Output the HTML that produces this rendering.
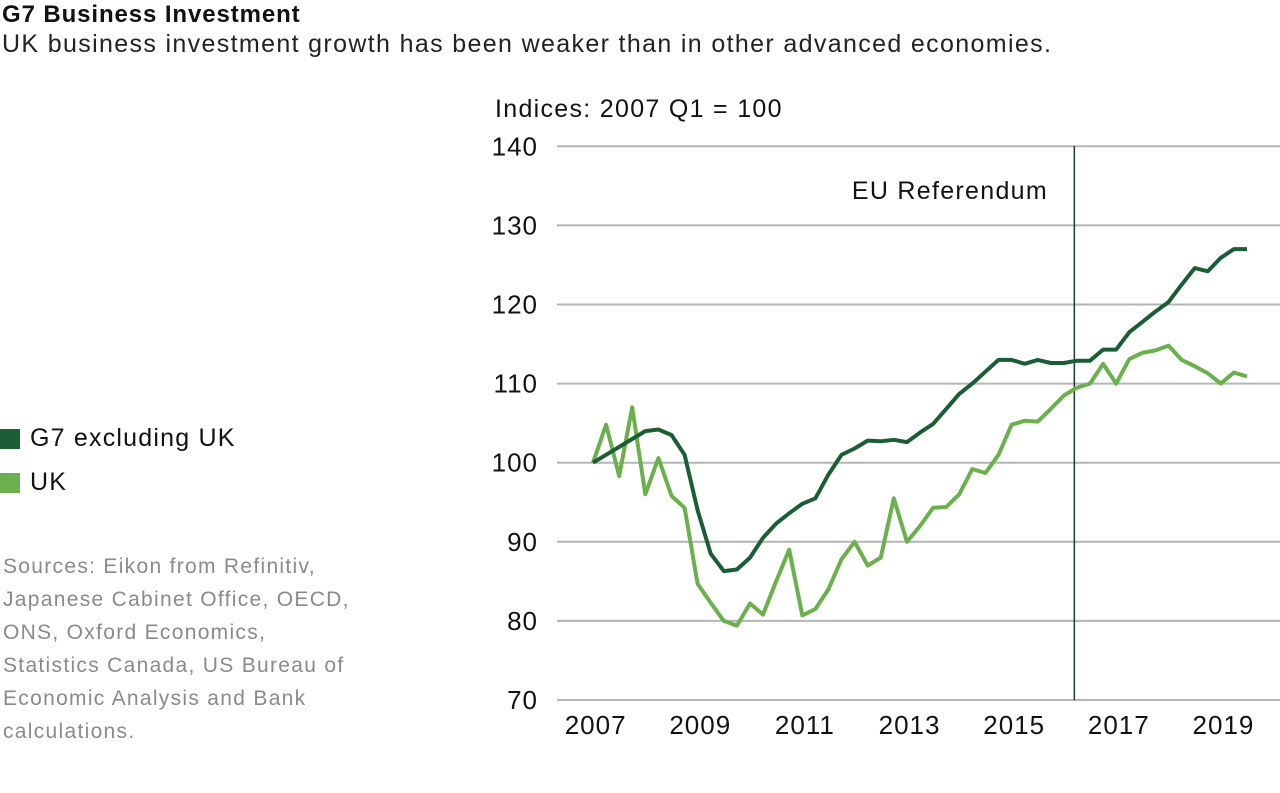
<!DOCTYPE html>
<html><head><meta charset="utf-8"><style>
body{margin:0;width:1280px;height:793px;background:#fff;font-family:"Liberation Sans",sans-serif;overflow:hidden;position:relative}
.t{position:absolute;white-space:nowrap}
</style></head><body>
<div class="t" style="left:2px;top:1px;font-size:24px;font-weight:bold;color:#111;letter-spacing:0.9px">G7 Business Investment</div>
<div class="t" style="left:2px;top:30px;font-size:25px;color:#222;letter-spacing:1.35px">UK business investment growth has been weaker than in other advanced economies.</div>
<div class="t" style="left:0;top:424px;font-size:25px;color:#111;letter-spacing:1.2px"><span style="display:inline-block;width:20px;height:20px;background:#1b5e35;vertical-align:-3px;margin-right:10px"></span>G7 excluding UK</div>
<div class="t" style="left:0;top:468px;font-size:25px;color:#111;letter-spacing:1.2px"><span style="display:inline-block;width:20px;height:20px;background:#6ab04c;vertical-align:-3px;margin-right:10px"></span>UK</div>
<div class="t" style="left:3px;top:550px;font-size:21px;line-height:33px;color:#8a8a8a;letter-spacing:1.3px">Sources: Eikon from Refinitiv,<br>Japanese Cabinet Office, OECD,<br>ONS, Oxford Economics,<br>Statistics Canada, US Bureau of<br>Economic Analysis and Bank<br>calculations.</div>
<svg id="c" width="1280" height="793" style="position:absolute;left:0;top:0"></svg>
<script>
const yTicks=[70,80,90,100,110,120,130,140];
const xTickLabels=["2007","2009","2011","2013","2015","2017","2019"];
const g7=[100,101,102,103,104,104.2,103.5,101,94,88.5,86.3,86.5,88,90.5,92.3,93.6,94.8,95.5,98.5,101,101.8,102.8,102.7,102.9,102.6,103.8,104.9,106.8,108.7,110,111.5,113,113,112.5,113,112.6,112.6,112.9,112.9,114.3,114.3,116.5,117.8,119.1,120.3,122.5,124.6,124.2,125.9,127,127];
const uk=[100,104.8,98.3,107,96,100.6,95.8,94.3,84.7,82.3,80,79.4,82.2,80.8,85,89,80.7,81.5,84,87.8,90,87,88,95.5,90,92,94.3,94.4,96,99.2,98.7,101,104.8,105.3,105.2,106.8,108.5,109.5,110,112.5,110,113.1,113.9,114.2,114.8,113,112.2,111.3,110,111.4,110.9];
const startYear=2007, referendumYear=2016.2;
const svg=document.getElementById('c');const NS='http://www.w3.org/2000/svg';
const y=v=>700-(v-70)*7.91;
const x=t=>593+(t-2007)*52.32;
function mk(tag,at){const e=document.createElementNS(NS,tag);for(const k in at)e.setAttribute(k,at[k]);svg.appendChild(e);return e;}
yTicks.forEach(v=>{
  const l=mk('line',{x1:557,x2:1280,y1:y(v),y2:y(v),stroke:'#b5b5b5','stroke-width':2});
  
  
  const t=mk('text',{x:538,y:y(v)+9,'text-anchor':'end','font-size':26,fill:'#111','letter-spacing':1});t.textContent=v;
  
  
});
xTickLabels.forEach(s=>{
  const t=mk('text',{x:x(+s+0.05),y:734,'text-anchor':'middle','font-size':26,fill:'#111','letter-spacing':1});t.textContent=s;
  
  
});
const yl=mk('text',{x:495,y:117,'font-size':25,fill:'#111','letter-spacing':1.3});yl.textContent='Indices: 2007 Q1 = 100';


const rl=mk('line',{x1:x(referendumYear),x2:x(referendumYear),y1:146,y2:700,stroke:'#1e3d28','stroke-width':1.5});


const rt=mk('text',{x:1048,y:199,'text-anchor':'end','font-size':25,fill:'#111','letter-spacing':1.3});rt.textContent='EU Referendum';


function path(arr,col,name){
  const d=arr.map((v,i)=>(i?'L':'M')+x(startYear+i/4).toFixed(1)+','+y(v).toFixed(1)).join('');
  const p=mk('path',{d:d,fill:'none',stroke:col,'stroke-width':4,'stroke-linejoin':'round'});
  
  
}
path(uk,'#6ab04c','uk-line');
path(g7,'#1b5e35','g7-line');
</script>
</body></html>
